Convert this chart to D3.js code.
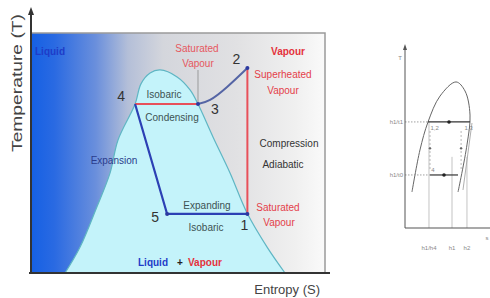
<!DOCTYPE html>
<html>
<head>
<meta charset="utf-8">
<script src="https://cdn.jsdelivr.net/npm/d3@7"></script>
<style>
  body { margin: 0; background: #fff; }
  svg { display: block; font-family: "Liberation Sans", Arial, sans-serif; }
</style>
</head>
<body>
<svg id="chart"></svg>
<script>
var width = 490;
var height = 298;

// saturation dome (entropy, temperature), arbitrary units 0-100
var domeS = [11.6, 16.7, 22.4, 26.9, 29.6, 35.4, 37.4, 40.5, 43.9, 49.7, 54.1, 56.8, 61.9, 67.7, 73.5, 80.3, 86.4];
var domeT = [0, 10.8, 27.5, 41.7, 55.4, 70.4, 78.8, 83.3, 84.6, 81.7, 76.3, 70.4, 56.7, 41.7, 25, 10.8, 0];

// state points of the cycle
var stateNames = ["1", "2", "3", "4", "5"];
var stateS = [73.6, 73.6, 56.8, 35.4, 46.3];
var stateT = [24.6, 85.4, 70.4, 70.4, 24.6];

// superheated leg 3 -> 2
var superS = [56.8, 60.9, 66.7, 73.6];
var superT = [70.4, 72.1, 77.5, 85.4];

// small diagram on the right
var smallDomeS = [8.2, 17.6, 27.1, 41.2, 60, 70.6, 76.5, 72.9, 62.4];
var smallDomeT = [19.9, 43.1, 58.6, 72.9, 80.7, 75.7, 62.4, 45.9, 19.9];
var smallLevels = [58.6, 29.3];
var smallLevelLabels = ["h1/t1", "h1/t0"];
var smallTickS = [28.2, 55.3, 72.9];
var smallTickLabels = ["h1/h4", "h1", "h2"];

var svg = d3.select('#chart')
    .attr('width', width)
    .attr('height', height);

// main diagram scales
var x = d3.scaleLinear().domain([0, 100]).range([31, 325]);
var y = d3.scaleLinear().domain([0, 100]).range([273, 33]);

// background gradient
var defs = svg.append('defs');
var grad = defs.append('linearGradient')
    .attr('id', 'bg')
    .attr('gradientUnits', 'userSpaceOnUse')
    .attr('x1', x(0)).attr('x2', x(100))
    .attr('y1', 0).attr('y2', 0);
[[0, '#1560e4'], [0.08, '#2a6ae2'], [0.22, '#6a8fdc'], [0.33, '#b4bfd8'],
 [0.45, '#d4d6dc'], [0.7, '#e1e1e3'], [0.9, '#f0f0f0'], [1, '#fafafa']].forEach(function (s) {
  grad.append('stop').attr('offset', s[0]).attr('stop-color', s[1]);
});

svg.append('rect')
    .attr('x', x(0)).attr('y', y(100))
    .attr('width', x(100) - x(0)).attr('height', y(0) - y(100))
    .attr('fill', 'url(#bg)');

// frame top / right
svg.append('path')
    .attr('d', 'M' + x(0) + ',' + y(100) + 'H' + x(100) + 'V' + y(0))
    .attr('fill', 'none')
    .attr('stroke', '#9a9a9a')
    .attr('stroke-width', 1.5);

// dome
var domePts = domeS.map(function (s, i) { return [s, domeT[i]]; });
var domeLine = d3.line()
    .x(function (d) { return x(d[0]); })
    .y(function (d) { return y(d[1]); })
    .curve(d3.curveCatmullRom.alpha(0.5));

svg.append('path')
    .datum(domePts)
    .attr('d', domeLine)
    .attr('fill', '#c4f3fa')
    .attr('stroke', '#5fb6c4')
    .attr('stroke-width', 1.2);

// cycle lines
function pt(i) { return [stateS[i], stateT[i]]; }
var straight = d3.line()
    .x(function (d) { return x(d[0]); })
    .y(function (d) { return y(d[1]); });

// vertical thin marker to saturated vapour
svg.append('line')
    .attr('x1', x(stateS[2])).attr('x2', x(stateS[2]))
    .attr('y1', 70).attr('y2', y(stateT[2]))
    .attr('stroke', '#8a8a8a').attr('stroke-width', 0.8);

svg.append('path').datum([pt(0), pt(1)])
    .attr('d', straight).attr('stroke', '#e8505a').attr('stroke-width', 2).attr('fill', 'none');
svg.append('path').datum([pt(3), pt(2)])
    .attr('d', straight).attr('stroke', '#e8505a').attr('stroke-width', 2).attr('fill', 'none');
svg.append('path').datum(superS.map(function (s, i) { return [s, superT[i]]; }))
    .attr('d', d3.line().x(function (d) { return x(d[0]); }).y(function (d) { return y(d[1]); }).curve(d3.curveNatural))
    .attr('stroke', '#5565a5').attr('stroke-width', 2).attr('fill', 'none');
svg.append('path').datum([pt(3), pt(4), pt(0)])
    .attr('d', straight).attr('stroke', '#2c40b4').attr('stroke-width', 2.2)
    .attr('stroke-linejoin', 'round').attr('fill', 'none');

// state markers
svg.selectAll('.state')
    .data([0, 1, 2, 4])
    .enter().append('circle')
    .attr('cx', function (i) { return x(stateS[i]); })
    .attr('cy', function (i) { return y(stateT[i]); })
    .attr('r', 2)
    .attr('fill', '#2c3aa0');

// state numbers
var numOff = [[-3, 16], [-11, -4], [17, 10], [-14, -3], [-12, 8]];
svg.selectAll('.num')
    .data(stateNames)
    .enter().append('text')
    .attr('x', function (d, i) { return x(stateS[i]) + numOff[i][0]; })
    .attr('y', function (d, i) { return y(stateT[i]) + numOff[i][1]; })
    .attr('text-anchor', 'middle')
    .attr('font-size', 14)
    .attr('fill', '#333')
    .text(function (d) { return d; });

// annotations
var notes = [
  ['Liquid', 35, 55, 'start', '#1e3cc8', 'bold'],
  ['Vapour', 288, 55, 'middle', '#e4323c', 'bold'],
  ['Saturated', 197, 52, 'middle', '#e65860', 'normal'],
  ['Vapour', 198, 67, 'middle', '#e65860', 'normal'],
  ['Superheated', 283, 78, 'middle', '#e4404a', 'normal'],
  ['Vapour', 283, 94, 'middle', '#e4404a', 'normal'],
  ['Isobaric', 164, 98, 'middle', '#3c5252', 'normal'],
  ['Condensing', 172, 121, 'middle', '#3c5252', 'normal'],
  ['Compression', 289, 147, 'middle', '#333', 'normal'],
  ['Adiabatic', 283, 168, 'middle', '#333', 'normal'],
  ['Expansion', 114, 164, 'middle', '#2a3c8c', 'normal'],
  ['Expanding', 207, 209, 'middle', '#3c5252', 'normal'],
  ['Isobaric', 206, 231, 'middle', '#3c5252', 'normal'],
  ['Saturated', 278, 211, 'middle', '#e4404a', 'normal'],
  ['Vapour', 279, 226, 'middle', '#e4404a', 'normal'],
  ['Liquid', 138, 266, 'start', '#1e3cc8', 'bold'],
  ['+', 180, 266, 'middle', '#222', 'bold'],
  ['Vapour', 188, 266, 'start', '#e4323c', 'bold']
];
svg.selectAll('.note')
    .data(notes)
    .enter().append('text')
    .attr('x', function (d) { return d[1]; })
    .attr('y', function (d) { return d[2]; })
    .attr('text-anchor', function (d) { return d[3]; })
    .attr('fill', function (d) { return d[4]; })
    .attr('font-weight', function (d) { return d[5]; })
    .attr('font-size', 10)
    .text(function (d) { return d[0]; });

// axes
svg.append('line')
    .attr('x1', x(0)).attr('x2', x(0))
    .attr('y1', y(0) + 1).attr('y2', 12)
    .attr('stroke', '#333').attr('stroke-width', 2);
svg.append('path')
    .attr('d', 'M' + x(0) + ',7L' + (x(0) - 3) + ',15L' + (x(0) + 3) + ',15Z')
    .attr('fill', '#333');
svg.append('line')
    .attr('x1', x(0) - 2).attr('x2', 330)
    .attr('y1', y(0)).attr('y2', y(0))
    .attr('stroke', '#333').attr('stroke-width', 2);

svg.append('text')
    .attr('x', 320).attr('y', 294)
    .attr('text-anchor', 'end')
    .attr('font-size', 13)
    .attr('fill', '#444')
    .text('Entropy (S)');
svg.append('text')
    .attr('transform', 'translate(22,83) rotate(-90)')
    .attr('text-anchor', 'middle')
    .attr('font-size', 14)
    .attr('fill', '#444')
    .attr('textLength', 138)
    .attr('lengthAdjust', 'spacingAndGlyphs')
    .text('Temperature (T)');

// ---- small diagram ----
var sx = d3.scaleLinear().domain([0, 100]).range([405, 490]);
var sy = d3.scaleLinear().domain([0, 100]).range([228, 47]);
var sline = d3.line()
    .x(function (d) { return sx(d[0]); })
    .y(function (d) { return sy(d[1]); });

var sg = svg.append('g').attr('fill', 'none');

sg.append('path')
    .datum(smallDomeS.map(function (s, i) { return [s, smallDomeT[i]]; }))
    .attr('d', d3.line().x(function (d) { return sx(d[0]); }).y(function (d) { return sy(d[1]); }).curve(d3.curveCatmullRom))
    .attr('stroke', '#666').attr('stroke-width', 1);
sg.append('path')
    .datum([[78.8, 58], [68.2, 21]])
    .attr('d', sline)
    .attr('stroke', '#999').attr('stroke-width', 0.8);

// vertical guide lines
sg.selectAll('.vg')
    .data(smallTickS)
    .enter().append('line')
    .attr('x1', function (d) { return sx(d); })
    .attr('x2', function (d) { return sx(d); })
    .attr('y1', function (d, i) { return i === 0 ? sy(smallLevels[0]) : sy(smallLevels[1] + 10); })
    .attr('y2', sy(0))
    .attr('stroke', '#aaa').attr('stroke-width', 0.7);

// pressure levels: dotted lead then solid segment
var levelEnds = [[27.1, 76.5], [29.4, 62.4]];
smallLevels.forEach(function (t, i) {
  sg.append('line')
      .attr('x1', sx(0)).attr('x2', sx(levelEnds[i][0]))
      .attr('y1', sy(t)).attr('y2', sy(t))
      .attr('stroke', '#888').attr('stroke-width', 0.8).attr('stroke-dasharray', '1.5,1.5');
  sg.append('line')
      .attr('x1', sx(levelEnds[i][0])).attr('x2', sx(levelEnds[i][1]))
      .attr('y1', sy(t)).attr('y2', sy(t))
      .attr('stroke', '#333').attr('stroke-width', 1.2);
  sg.append('circle')
      .attr('cx', sx((levelEnds[i][0] + levelEnds[i][1]) / 2)).attr('cy', sy(t))
      .attr('r', 1.8).attr('fill', '#222');
});

// dashed links between levels
[29.4, 66].forEach(function (s) {
  sg.append('line')
      .attr('x1', sx(s)).attr('x2', sx(s))
      .attr('y1', sy(smallLevels[0] - 5)).attr('y2', sy(smallLevels[1] + 3))
      .attr('stroke', '#999').attr('stroke-width', 0.7).attr('stroke-dasharray', '2,2');
  sg.append('circle')
      .attr('cx', sx(s)).attr('cy', sy(44)).attr('r', 1.2).attr('fill', '#666');
});

// small axes
sg.append('line')
    .attr('x1', sx(0)).attr('x2', sx(0)).attr('y1', sy(0)).attr('y2', sy(100))
    .attr('stroke', '#555').attr('stroke-width', 1);
sg.append('path')
    .attr('d', 'M' + sx(0) + ',' + (sy(100) - 3) + 'l-2,6h4z')
    .attr('fill', '#555');
sg.append('line')
    .attr('x1', sx(0)).attr('x2', 490).attr('y1', sy(0)).attr('y2', sy(0))
    .attr('stroke', '#555').attr('stroke-width', 1.2);

var small = svg.append('g')
    .attr('font-size', 6)
    .attr('fill', '#888');
small.append('text').attr('x', 400).attr('y', 60).attr('text-anchor', 'middle').text('T');
small.append('text').attr('x', 487).attr('y', 240).attr('text-anchor', 'middle').text('s');
small.selectAll('.lv')
    .data(smallLevelLabels)
    .enter().append('text')
    .attr('x', 403)
    .attr('y', function (d, i) { return sy(smallLevels[i]) + 2; })
    .attr('text-anchor', 'end')
    .text(function (d) { return d; });
small.selectAll('.tk')
    .data(smallTickLabels)
    .enter().append('text')
    .attr('x', function (d, i) { return sx(smallTickS[i]); })
    .attr('y', 250)
    .attr('text-anchor', 'middle')
    .text(function (d) { return d; });
small.append('text').attr('x', sx(30)).attr('y', sy(smallLevels[0]) + 8).text('1,2');
small.append('text').attr('x', sx(70)).attr('y', sy(smallLevels[0]) + 8).text('1,3');
small.append('text').attr('x', sx(31)).attr('y', sy(smallLevels[1]) - 3).text('4');
</script>
</body>
</html>
